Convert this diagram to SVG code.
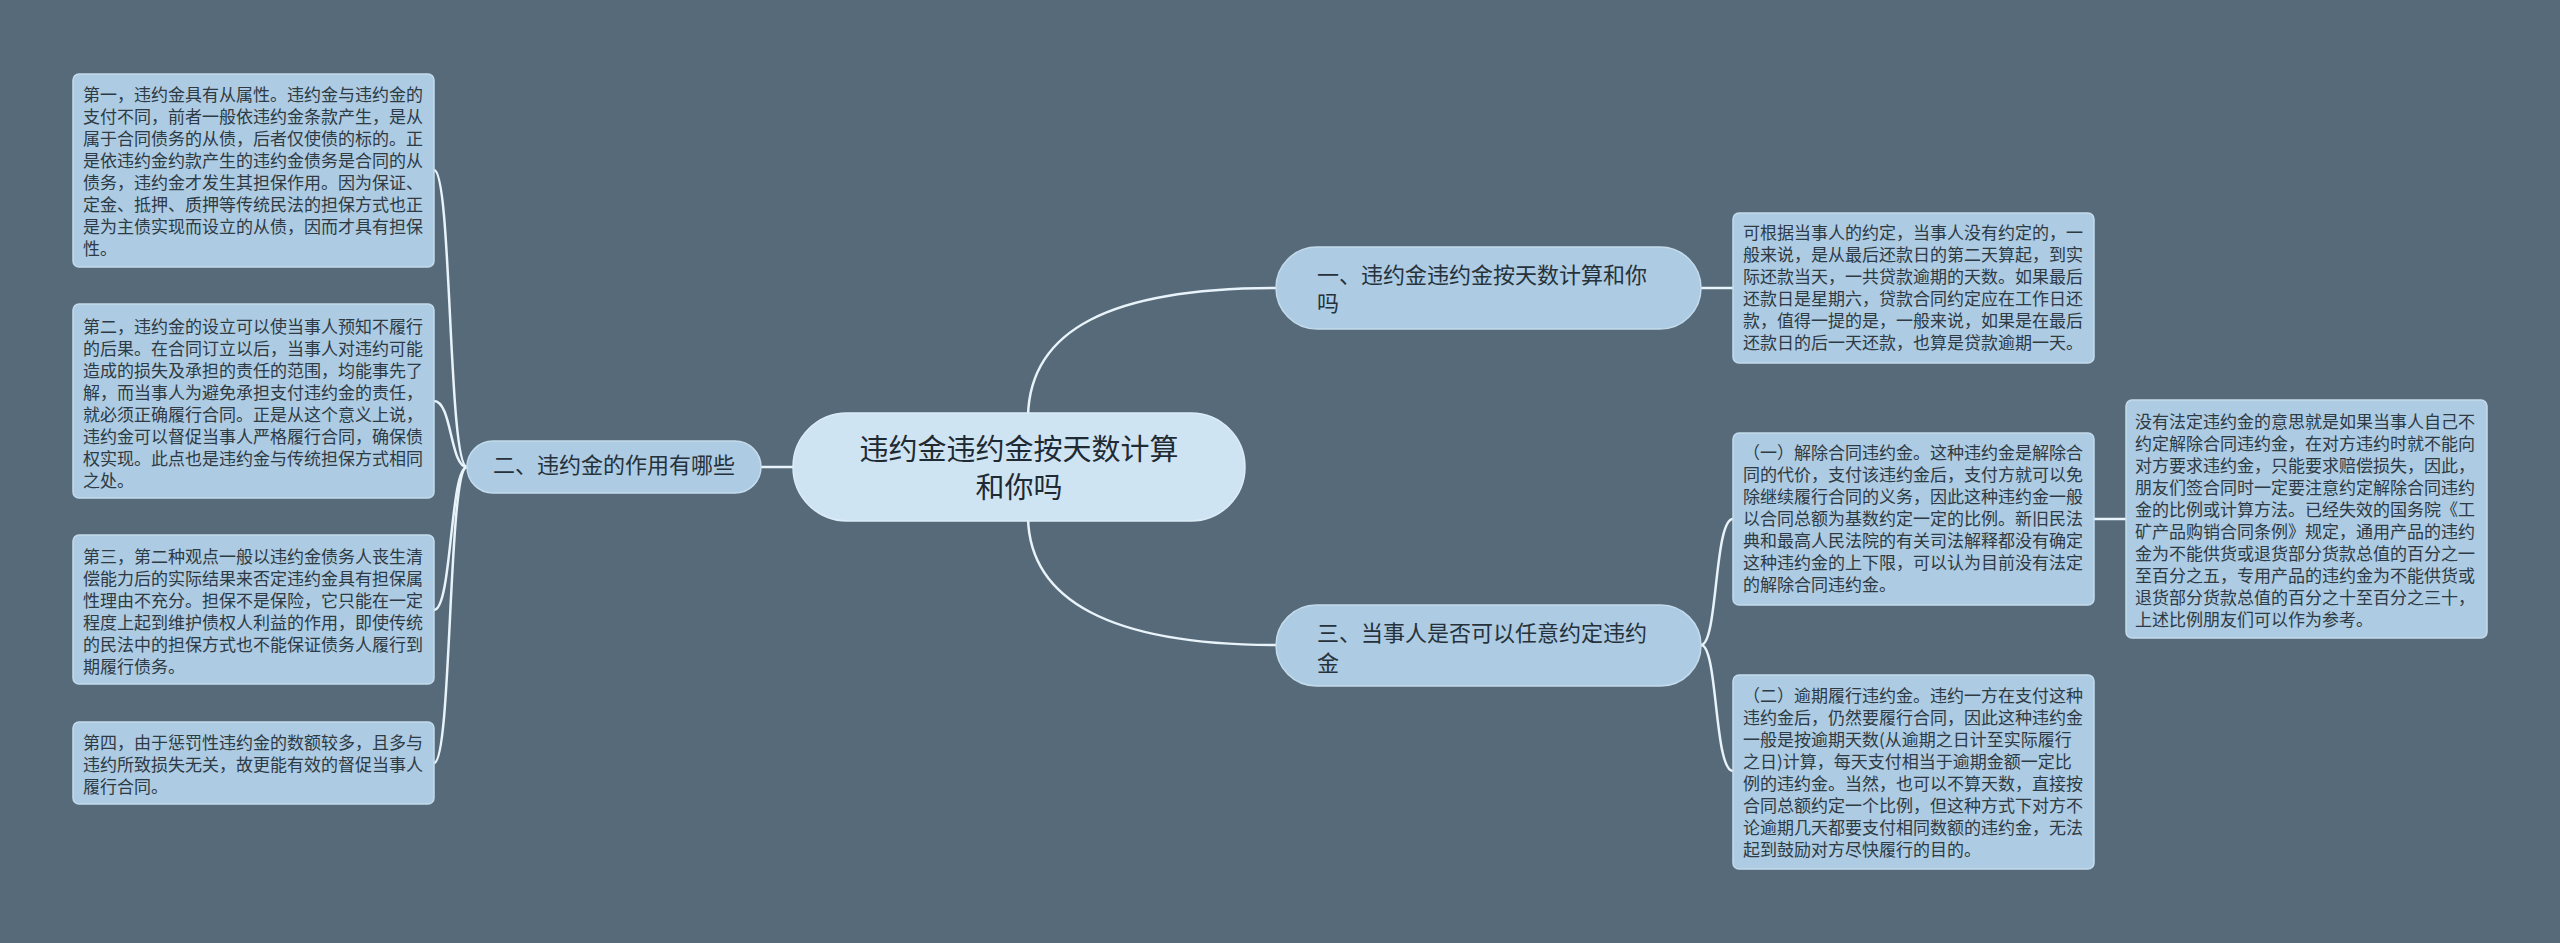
<svg xmlns="http://www.w3.org/2000/svg" width="2560" height="943" viewBox="0 0 2560 943">
<style>
.bg{fill:#566a79}
.box{fill:#adcbe2;stroke:#c3dbec;stroke-width:1.5}
.branch{fill:#adcbe2;stroke:#c3dbec;stroke-width:1.5}
.root{fill:#cfe4f2;stroke:#dcecf7;stroke-width:1.5}
.t{font-family:"Noto Sans CJK SC","Noto Sans",sans-serif;font-size:17px;fill:#2e3a44}
.tb{font-family:"Noto Sans CJK SC","Noto Sans",sans-serif;font-size:22px;fill:#26323b}
.tr{font-family:"Noto Sans CJK SC","Noto Sans",sans-serif;font-size:29px;fill:#1f2a32}
.c{fill:none;stroke:#e8f3fa;stroke-width:2.5}
</style>
<rect class="bg" x="0" y="0" width="2560" height="943"/>
<g id="connectors">
<path class="c" d="M1028,416 C1030,330 1110,288 1276,288"/>
<path class="c" d="M1028,518 C1030,600 1110,645 1276,645"/>
<path class="c" d="M793,467 L761,467"/>
<path class="c" d="M467,467 C448,467 452,170 434,170"/>
<path class="c" d="M467,467 C450,467 452,401 434,401"/>
<path class="c" d="M467,467 C450,467 452,610 434,610"/>
<path class="c" d="M467,467 C448,467 452,763 434,763"/>
<path class="c" d="M1701,288 L1733,288"/>
<path class="c" d="M1701,645 C1718,645 1714,519 1733,519"/>
<path class="c" d="M1701,645 C1718,645 1714,771 1733,771"/>
<path class="c" d="M2094,519 L2126,519"/>
</g>
<g id="root">
<rect class="root" x="793" y="413" width="452" height="108" rx="54"/>
<text class="tr" text-anchor="middle"><tspan x="1019" y="460">违约金违约金按天数计算</tspan><tspan x="1019" y="498">和你吗</tspan></text>
</g>
<g id="branch1">
<rect class="branch" x="1276" y="247" width="425" height="82" rx="41"/>
<text class="tb"><tspan x="1317" y="283">一、违约金违约金按天数计算和你</tspan><tspan x="1317" y="311">吗</tspan></text>
</g>
<g id="branch2">
<rect class="branch" x="467" y="441" width="294" height="52" rx="26"/>
<text class="tb" text-anchor="middle" x="614" y="473">二、违约金的作用有哪些</text>
</g>
<g id="branch3">
<rect class="branch" x="1276" y="605" width="425" height="81" rx="40.5"/>
<text class="tb"><tspan x="1317" y="641">三、当事人是否可以任意约定违约</tspan><tspan x="1317" y="671">金</tspan></text>
</g>
<g id="left1">
<rect class="box" x="73" y="74" width="361" height="193" rx="6"/>
<text class="t"><tspan x="83" y="101">第一，违约金具有从属性。违约金与违约金的</tspan><tspan x="83" y="123">支付不同，前者一般依违约金条款产生，是从</tspan><tspan x="83" y="145">属于合同债务的从债，后者仅使债的标的。正</tspan><tspan x="83" y="167">是依违约金约款产生的违约金债务是合同的从</tspan><tspan x="83" y="189">债务，违约金才发生其担保作用。因为保证、</tspan><tspan x="83" y="211">定金、抵押、质押等传统民法的担保方式也正</tspan><tspan x="83" y="233">是为主债实现而设立的从债，因而才具有担保</tspan><tspan x="83" y="255">性。</tspan></text>
</g>
<g id="left2">
<rect class="box" x="73" y="304" width="361" height="194" rx="6"/>
<text class="t"><tspan x="83" y="333">第二，违约金的设立可以使当事人预知不履行</tspan><tspan x="83" y="355">的后果。在合同订立以后，当事人对违约可能</tspan><tspan x="83" y="377">造成的损失及承担的责任的范围，均能事先了</tspan><tspan x="83" y="399">解，而当事人为避免承担支付违约金的责任，</tspan><tspan x="83" y="421">就必须正确履行合同。正是从这个意义上说，</tspan><tspan x="83" y="443">违约金可以督促当事人严格履行合同，确保债</tspan><tspan x="83" y="465">权实现。此点也是违约金与传统担保方式相同</tspan><tspan x="83" y="487">之处。</tspan></text>
</g>
<g id="left3">
<rect class="box" x="73" y="535" width="361" height="149" rx="6"/>
<text class="t"><tspan x="83" y="563">第三，第二种观点一般以违约金债务人丧生清</tspan><tspan x="83" y="585">偿能力后的实际结果来否定违约金具有担保属</tspan><tspan x="83" y="607">性理由不充分。担保不是保险，它只能在一定</tspan><tspan x="83" y="629">程度上起到维护债权人利益的作用，即使传统</tspan><tspan x="83" y="651">的民法中的担保方式也不能保证债务人履行到</tspan><tspan x="83" y="673">期履行债务。</tspan></text>
</g>
<g id="left4">
<rect class="box" x="73" y="722" width="361" height="82" rx="6"/>
<text class="t"><tspan x="83" y="749">第四，由于惩罚性违约金的数额较多，且多与</tspan><tspan x="83" y="771">违约所致损失无关，故更能有效的督促当事人</tspan><tspan x="83" y="793">履行合同。</tspan></text>
</g>
<g id="right1">
<rect class="box" x="1733" y="213" width="361" height="150" rx="6"/>
<text class="t"><tspan x="1743" y="239">可根据当事人的约定，当事人没有约定的，一</tspan><tspan x="1743" y="261">般来说，是从最后还款日的第二天算起，到实</tspan><tspan x="1743" y="283">际还款当天，一共贷款逾期的天数。如果最后</tspan><tspan x="1743" y="305">还款日是星期六，贷款合同约定应在工作日还</tspan><tspan x="1743" y="327">款，值得一提的是，一般来说，如果是在最后</tspan><tspan x="1743" y="349">还款日的后一天还款，也算是贷款逾期一天。</tspan></text>
</g>
<g id="right2">
<rect class="box" x="1733" y="433" width="361" height="172" rx="6"/>
<text class="t"><tspan x="1743" y="459">（一）解除合同违约金。这种违约金是解除合</tspan><tspan x="1743" y="481">同的代价，支付该违约金后，支付方就可以免</tspan><tspan x="1743" y="503">除继续履行合同的义务，因此这种违约金一般</tspan><tspan x="1743" y="525">以合同总额为基数约定一定的比例。新旧民法</tspan><tspan x="1743" y="547">典和最高人民法院的有关司法解释都没有确定</tspan><tspan x="1743" y="569">这种违约金的上下限，可以认为目前没有法定</tspan><tspan x="1743" y="591">的解除合同违约金。</tspan></text>
</g>
<g id="right3">
<rect class="box" x="1733" y="675" width="361" height="194" rx="6"/>
<text class="t"><tspan x="1743" y="702">（二）逾期履行违约金。违约一方在支付这种</tspan><tspan x="1743" y="724">违约金后，仍然要履行合同，因此这种违约金</tspan><tspan x="1743" y="746">一般是按逾期天数(从逾期之日计至实际履行</tspan><tspan x="1743" y="768">之日)计算，每天支付相当于逾期金额一定比</tspan><tspan x="1743" y="790">例的违约金。当然，也可以不算天数，直接按</tspan><tspan x="1743" y="812">合同总额约定一个比例，但这种方式下对方不</tspan><tspan x="1743" y="834">论逾期几天都要支付相同数额的违约金，无法</tspan><tspan x="1743" y="856">起到鼓励对方尽快履行的目的。</tspan></text>
</g>
<g id="right4">
<rect class="box" x="2126" y="400" width="361" height="238" rx="6"/>
<text class="t"><tspan x="2135" y="428">没有法定违约金的意思就是如果当事人自己不</tspan><tspan x="2135" y="450">约定解除合同违约金，在对方违约时就不能向</tspan><tspan x="2135" y="472">对方要求违约金，只能要求赔偿损失，因此，</tspan><tspan x="2135" y="494">朋友们签合同时一定要注意约定解除合同违约</tspan><tspan x="2135" y="516">金的比例或计算方法。已经失效的国务院《工</tspan><tspan x="2135" y="538">矿产品购销合同条例》规定，通用产品的违约</tspan><tspan x="2135" y="560">金为不能供货或退货部分货款总值的百分之一</tspan><tspan x="2135" y="582">至百分之五，专用产品的违约金为不能供货或</tspan><tspan x="2135" y="604">退货部分货款总值的百分之十至百分之三十，</tspan><tspan x="2135" y="626">上述比例朋友们可以作为参考。</tspan></text>
</g>
</svg>
